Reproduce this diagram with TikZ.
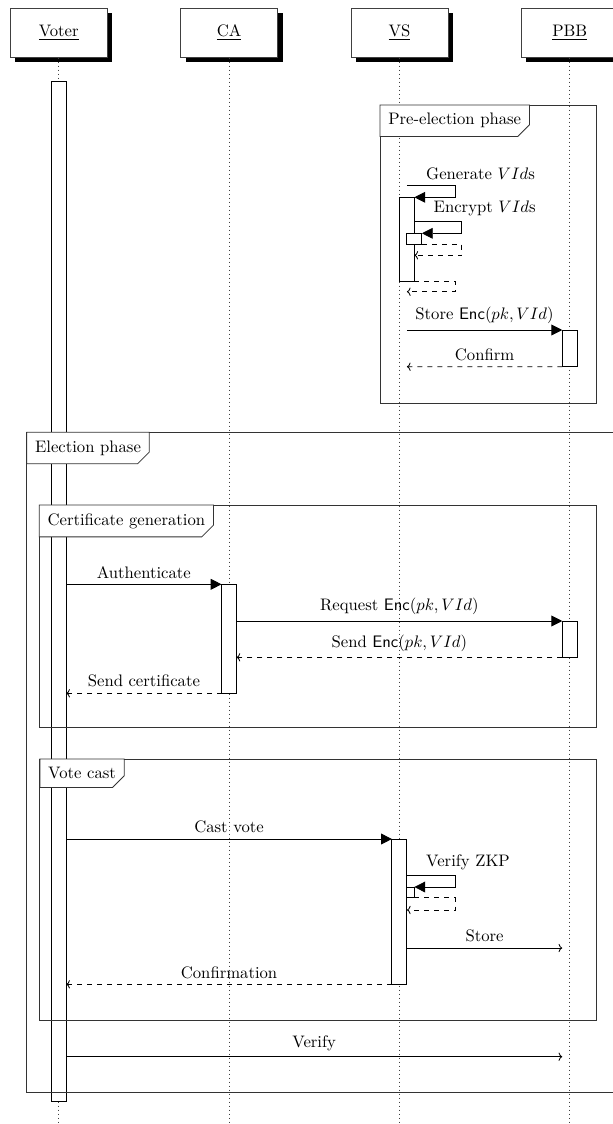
\documentclass[tikz,border=0pt]{standalone}
\usetikzlibrary{shadows,arrows.meta,calc}
\tikzset{
  head/.style={draw=black!75, line width=0.4pt, fill=white, minimum width=58.2pt, minimum height=29.4pt, inner sep=0pt,
    general shadow={fill=black, shadow xshift=3pt, shadow yshift=-3pt}},
  life/.style={dotted, line width=0.4pt, black!75},
  bar/.style={draw, line width=0.5pt, fill=white, inner sep=0pt, outer sep=0pt, minimum width=9pt, anchor=north west},
  frm/.style={draw=black!80, line width=0.5pt},
  lbl/.style={fill=white, inner sep=5pt, outer sep=0pt, anchor=north west},
  callmsg/.style={line width=0.5pt, -{Triangle[length=6.5pt,width=6.5pt]}},
  retmsg/.style={line width=0.5pt, dashed, -{To[length=2.2pt,width=5pt]}},
  plainmsg/.style={line width=0.5pt, -{To[length=2.2pt,width=5pt]}},
  every node/.style={font=\fontsize{10}{12}\selectfont},
}
\begin{document}
\begin{tikzpicture}[x=0.6pt, y=-0.6pt]
\useasboundingbox (0,0) rectangle (613,1124);

% heads
\node[head] (voter) at (58.7,32.8) {\underline{Voter}};
\node[head] (ca) at (229.05,32.8) {\underline{CA}};
\node[head] (vs) at (399.4,32.8) {\underline{VS}};
\node[head] (pbb) at (569.75,32.8) {\underline{PBB}};

% lifeline ends
\coordinate (voterEnd) at (58.7,1122);
\coordinate (caEnd) at (229.05,1122);
\coordinate (vsEnd) at (399.4,1122);
\coordinate (pbbEnd) at (569.75,1122);
\draw[life] (voter.south) -- (voterEnd);
\draw[life] (ca.south) -- (caEnd);
\draw[life] (vs.south) -- (vsEnd);
\draw[life] (pbb.south) -- (pbbEnd);

% activation bars
\node[bar, minimum height=612.2pt] (vbar) at (51.2,81) {};
\node[bar, minimum height=50.2pt] (vsA) at (399.4,197.3) {};
\node[bar, minimum height=6.6pt] (vsB) at (406.9,233.3) {};
\node[bar, minimum height=22pt] (pbb1) at (562.25,330) {};
\node[bar, minimum height=65.4pt] (cabar) at (221.55,584.3) {};
\node[bar, minimum height=21.8pt] (pbb2) at (562.25,621) {};
\node[bar, minimum height=6.4pt] (vsC) at (399.4,887) {};
\node[bar, minimum height=87.2pt] (vsbar) at (391.9,839) {};

% pre-election messages
\coordinate (genS) at (406.9,185.7);
\coordinate (genR) at (406.9,291.7);
\coordinate (encS) at (414.4,221.7);
\coordinate (encR) at (414.4,255.3);
\coordinate (storeS) at (406.9,330);
\coordinate (confE) at (406.9,366.7);

\draw[callmsg] (genS) node[above right, xshift=8pt] (genL) {Generate $VId$s} -- ++(48.3,0) |- (vsA.north east);
\draw[callmsg] (encS) node[above right, xshift=8pt] (encL) {Encrypt $VId$s} -- ++(47.3,0) |- (vsB.north east);
\draw[retmsg] (vsB.south east) -- ++(39.8,0) |- (encR);
\draw[retmsg] (vsA.south east) -- ++(40.8,0) |- (genR);
\draw[callmsg] (storeS) -- (pbb1.north west) node[midway, above] (storeL) {Store $\mathsf{Enc}(pk,VId)$};
\draw[retmsg] (pbb1.south west) -- (confE) node[midway, above] (confL) {Confirm};

% certificate generation messages
\draw[callmsg] (vbar.east |- cabar.north) -- (cabar.north west) node[midway, above] (authL) {Authenticate};
\draw[callmsg] (cabar.east |- pbb2.north) -- (pbb2.north west) node[midway, above] (reqL) {Request $\mathsf{Enc}(pk,VId)$};
\draw[retmsg] (pbb2.south west) -- (cabar.east |- pbb2.south) node[midway, above] (sendL) {Send $\mathsf{Enc}(pk,VId)$};
\draw[retmsg] (cabar.south west) -- (vbar.east |- cabar.south) node[midway, above] (certL) {Send certificate};

% vote cast messages
\coordinate (zkpS) at (406.9,875.7);
\coordinate (zkpR) at (406.9,910);
\coordinate (vstS) at (406.9,948);
\coordinate (vstE) at (562.25,948);
\coordinate (verE) at (562.25,1056.7);
\draw[callmsg] (vbar.east |- vsbar.north) -- (vsbar.north west) node[midway, above] (castL) {Cast vote};
\draw[callmsg] (zkpS) node[above right, xshift=8pt] (zkpL) {Verify ZKP} -- ++(48.5,0) |- (vsC.north east);
\draw[retmsg] (vsC.south east) -- ++(41,0) |- (zkpR);
\draw[plainmsg] (vstS) -- (vstE) node[midway, above] (vstL) {Store};
\draw[retmsg] (vsbar.south west) -- (vbar.east |- vsbar.south) node[midway, above] (cfmL) {Confirmation};
\draw[plainmsg] (vbar.east |- verE) -- (verE) node[midway, above] (verL) {Verify};

% frames
\draw[frm] (380,105) rectangle (596.7,403);
\draw[frm] (26.7,432.3) rectangle (625,1092.3);
\draw[frm] (39.3,505) rectangle (596.7,727);
\draw[frm] (39.9,759) rectangle (596.5,1020);

\node[lbl] (preL) at (380,105) {Pre-election phase};
\draw[frm] (preL.north west) -- (preL.north east) -- ([yshift=7pt]preL.south east) -- ([xshift=-7pt]preL.south east) -- (preL.south west) -- cycle;
\node[lbl] (elL) at (26.7,432.3) {Election phase};
\draw[frm] (elL.north west) -- (elL.north east) -- ([yshift=7pt]elL.south east) -- ([xshift=-7pt]elL.south east) -- (elL.south west) -- cycle;
\node[lbl] (cgL) at (39.3,505) {Certificate generation};
\draw[frm] (cgL.north west) -- (cgL.north east) -- ([yshift=7pt]cgL.south east) -- ([xshift=-7pt]cgL.south east) -- (cgL.south west) -- cycle;
\node[lbl] (vcL) at (39.9,759) {Vote cast};
\draw[frm] (vcL.north west) -- (vcL.north east) -- ([yshift=7pt]vcL.south east) -- ([xshift=-7pt]vcL.south east) -- (vcL.south west) -- cycle;
\end{tikzpicture}
\end{document}
